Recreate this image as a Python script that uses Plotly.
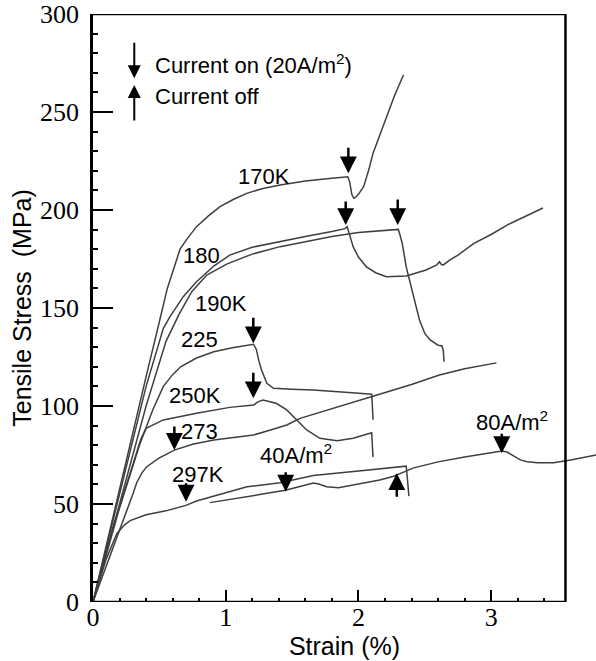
import plotly.graph_objects as go

# ---------------- data ----------------
x_170 = [0, 0.2, 0.4, 0.5, 0.56, 0.656, 0.706, 0.78, 0.87, 0.957, 1.06, 1.158, 1.28, 1.41, 1.6, 1.8, 1.92,
         1.935, 1.95, 1.965, 1.98, 2.0, 2.04, 2.08, 2.11, 2.16, 2.21, 2.27, 2.34]
y_170 = [0, 58, 115, 143, 160, 180, 185, 191.5, 197, 201.7, 205.5, 208.5, 211, 212.8, 214.8, 216.2, 217,
         214, 208, 206, 206.5, 208, 212, 221, 229, 238, 247.6, 258, 269]

x_180 = [0, 0.2, 0.4, 0.53, 0.58, 0.68, 0.78, 0.91, 1.03, 1.2, 1.41, 1.6, 1.8, 1.9, 1.915, 1.93, 1.96, 2.0,
         2.06, 2.13, 2.21, 2.36, 2.51, 2.59, 2.61, 2.625, 2.64, 2.69, 2.75, 2.87, 3.0, 3.12, 3.25, 3.39]
y_180 = [0, 55, 110, 139.6, 145.6, 155.8, 163.4, 171.4, 177, 181, 184, 186.5, 189, 190.5, 191.5, 188, 181.3, 176,
         171, 168, 166, 166.3, 169.4, 172, 173.6, 172.2, 172, 174.5, 177, 183, 187.5, 192.3, 196.5, 201]

x_190 = [0, 0.2, 0.4, 0.55, 0.65, 0.744, 0.857, 1.007, 1.2, 1.41, 1.6, 1.8, 2.0, 2.2, 2.3, 2.31, 2.33, 2.36,
         2.41, 2.46, 2.5, 2.54, 2.6, 2.63, 2.64, 2.645]
y_190 = [0, 50, 100, 133, 147, 158.3, 166.8, 172.4, 177.5, 181.3, 184, 186.5, 188.5, 189.6, 190.1, 188, 183, 171,
         157.5, 143.9, 137, 133.7, 131, 130.6, 128, 122.6]

x_225 = [0, 0.2, 0.35, 0.45, 0.53, 0.6, 0.66, 0.78, 0.91, 1.05, 1.21, 1.23, 1.25, 1.27, 1.31, 1.36, 1.5, 1.66,
         1.9, 2.1, 2.105, 2.11]
y_225 = [0, 48, 80, 98, 110, 116, 120, 124.5, 127.7, 129.7, 131.5, 129, 123, 118.4, 111.6, 109, 108.6, 108.2,
         107, 106, 100, 93]

x_250 = [0, 0.15, 0.3, 0.36, 0.4, 0.53, 0.78, 1.03, 1.21, 1.24, 1.28, 1.38, 1.46, 1.51, 1.56, 1.61, 1.71, 1.84,
         1.96, 2.1, 2.105, 2.11]
y_250 = [0, 38, 70, 83, 88.6, 92.9, 96.3, 99.3, 100.5, 102, 103, 101.4, 98, 94.5, 91.2, 87.8, 83.5, 82.3,
         83.5, 86.4, 80, 74]

x_273 = [0, 0.15, 0.25, 0.3, 0.33, 0.37, 0.405, 0.5, 0.613, 0.75, 0.91, 1.1, 1.21, 1.35, 1.46, 1.56, 1.8, 2.07,
         2.14, 2.4, 2.61, 2.8, 3.04]
y_273 = [0, 27, 46, 55, 61, 66, 69, 73.5, 77.5, 80.5, 82.7, 84.2, 85.2, 88, 90.3, 93.7, 98.5, 103.9,
         105.6, 111, 115.8, 119, 122]

x_297 = [0, 0.1, 0.18, 0.24, 0.28, 0.4, 0.55, 0.7, 0.78, 0.91, 1.16, 1.41, 1.66, 2.0, 2.2, 2.36, 2.37, 2.38]
y_297 = [0, 22, 35, 39.5, 41.5, 44.5, 46.5, 49.3, 51.5, 54, 58.8, 60.8, 64.5, 66.8, 68, 69.3, 62, 54]

x_297b = [0.88, 1.1, 1.3, 1.45, 1.55, 1.62, 1.66, 1.7, 1.76, 1.85, 2.0, 2.16, 2.26, 2.3, 2.35, 2.41, 2.6, 2.8,
          3.0, 3.08, 3.12, 3.17, 3.22, 3.27, 3.35, 3.47, 3.6, 3.79]
y_297b = [50.7, 53.3, 55.3, 57, 58.8, 60, 60.7, 60.2, 58.8, 58.3, 60.3, 62.2, 64, 65, 66.5, 68.3, 71.5, 74,
          76.2, 77, 76.5, 74.5, 72.5, 71.6, 71.1, 71.1, 72.5, 75]

curves = [(x_170, y_170), (x_180, y_180), (x_190, y_190), (x_225, y_225), (x_250, y_250),
          (x_273, y_273), (x_297, y_297), (x_297b, y_297b)]

# curve labels
label_text = ["170K", "180", "190K", "225", "250K", "273", "297K", "40A/m<sup>2</sup>", "80A/m<sup>2</sup>"]
label_x = [1.289, 0.814, 0.965, 0.799, 0.769, 0.799, 0.791, 1.53, 3.157]
label_y = [217.1, 177, 152.3, 133.7, 105.6, 87.2, 65.3, 75.5, 92.3]

# "current on" arrows (tip positions)
on_x = [1.924, 1.904, 2.296, 1.208, 1.208, 0.613, 0.701, 1.452, 3.08]
on_y = [218.7, 192.3, 192.3, 132, 103.9, 77.6, 51.2, 56.3, 75.9]
on_len = [27, 25, 27, 27, 27, 25, 20, 21, 21]
# "current off" arrow
off_x = [2.289]
off_y = [65.7]

x_ticks = [0, 1, 2, 3]
y_ticks = [0, 50, 100, 150, 200, 250, 300]
x_minor = [0.2, 0.4, 0.6, 0.8, 1.2, 1.4, 1.6, 1.8, 2.2, 2.4, 2.6, 2.8, 3.2, 3.4]

x_frame = 3.56
x_max = 3.79

# ---------------- figure ----------------
fig = go.Figure()
for cx, cy in curves:
    fig.add_trace(go.Scatter(x=cx, y=cy, mode="lines",
                             line=dict(color="#3f3f3f", width=1.5), showlegend=False,
                             hoverinfo="skip"))

sans = "Liberation Sans, Arial, sans-serif"
serif = "Liberation Serif, Times New Roman, serif"

annotations = []
for t, lx, ly in zip(label_text, label_x, label_y):
    annotations.append(dict(x=lx, y=ly, text=t, showarrow=False,
                            font=dict(family=sans, size=22, color="black"),
                            xanchor="center", yanchor="middle"))

for ax_, ay_, ln in zip(on_x, on_y, on_len):
    annotations.append(dict(x=ax_, y=ay_, ax=0, ay=-ln, text="", showarrow=True,
                            arrowhead=2, arrowsize=1.35, arrowwidth=2.5, arrowcolor="black"))
for ax_, ay_ in zip(off_x, off_y):
    annotations.append(dict(x=ax_, y=ay_, ax=0, ay=25, text="", showarrow=True,
                            arrowhead=2, arrowsize=1.35, arrowwidth=2.5, arrowcolor="black"))

# key
annotations.append(dict(x=0.311, y=267.2, ax=0, ay=-37, text="", showarrow=True,
                        arrowhead=2, arrowsize=1.3, arrowwidth=2, arrowcolor="black"))
annotations.append(dict(x=0.311, y=263.8, ax=0, ay=37, text="", showarrow=True,
                        arrowhead=2, arrowsize=1.3, arrowwidth=2, arrowcolor="black"))
annotations.append(dict(x=0.452, y=274.5, text="Current on (20A/m<sup>2</sup>)", showarrow=False,
                        font=dict(family=sans, size=22, color="black"),
                        xanchor="left", yanchor="middle"))
annotations.append(dict(x=0.452, y=257.9, text="Current off", showarrow=False,
                        font=dict(family=sans, size=22, color="black"),
                        xanchor="left", yanchor="middle"))

frame = dict(color="black", width=2.5)
shapes = [
    dict(type="line", xref="x", yref="y", x0=0, x1=x_frame, y0=300, y1=300, line=frame),
    dict(type="line", xref="x", yref="y", x0=x_frame, x1=x_frame, y0=0, y1=300, line=frame),
    dict(type="line", xref="x", yref="y", x0=0, x1=x_frame, y0=0, y1=0, line=frame),
]

fig.update_layout(
    width=596, height=661,
    margin=dict(l=93, r=0, t=14, b=59),
    paper_bgcolor="white", plot_bgcolor="white",
    annotations=annotations, shapes=shapes,
    showlegend=False,
)
fig.update_xaxes(
    range=[0, x_max], showgrid=False, zeroline=False, showline=False,
    tickmode="array", tickvals=x_ticks, ticktext=[str(v) for v in x_ticks],
    ticks="inside", ticklen=12, tickwidth=2, tickcolor="black",
    tickfont=dict(family=serif, size=26, color="black"), ticklabelstandoff=-3,
    minor=dict(tickmode="array", tickvals=x_minor, ticks="inside", ticklen=4,
               tickwidth=1.5, tickcolor="black"),
    title=dict(text="Strain (%)", font=dict(family=sans, size=25, color="black"), standoff=0),
)
fig.update_yaxes(
    range=[0, 300], showgrid=False, zeroline=False, showline=True, linecolor="black", linewidth=2.5,
    tickmode="array", tickvals=y_ticks, ticktext=[str(v) for v in y_ticks],
    ticks="inside", ticklen=20, tickwidth=2, tickcolor="black",
    tickfont=dict(family=serif, size=26, color="black"), ticklabelstandoff=6,
    minor=dict(dtick=10, ticks="inside", ticklen=5, tickwidth=1.5, tickcolor="black"),
    title=dict(text="Tensile Stress\u00a0 (MPa)", font=dict(family=sans, size=25, color="black"),
               standoff=2),
)

fig.write_html("out.html", config={"displayModeBar": False},
               post_script="document.body.style.margin='0px';")
